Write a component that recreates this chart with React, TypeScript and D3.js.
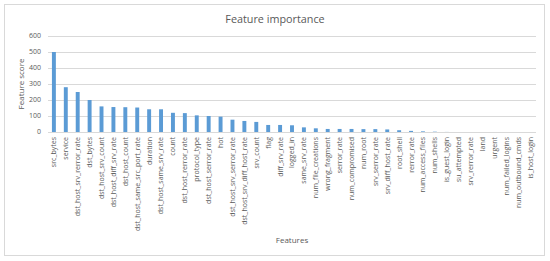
import { useRef, useEffect } from 'react';
import * as d3 from 'd3';

// Feature names, sorted by score as in the source chart
const FEATURES = [
  'src_bytes', 'service', 'dst_host_srv_rerror_rate', 'dst_bytes', 'dst_host_srv_count',
  'dst_host_diff_srv_rate', 'dst_host_count', 'dst_host_same_src_port_rate', 'duration',
  'dst_host_same_srv_rate', 'count', 'dst_host_rerror_rate', 'protocol_type',
  'dst_host_serror_rate', 'hot', 'dst_host_srv_serror_rate', 'dst_host_srv_diff_host_rate',
  'srv_count', 'flag', 'diff_srv_rate', 'logged_in', 'same_srv_rate', 'num_file_creations',
  'wrong_fragment', 'serror_rate', 'num_compromised', 'num_root', 'srv_serror_rate',
  'srv_diff_host_rate', 'root_shell', 'rerror_rate', 'num_access_files', 'num_shells',
  'is_guest_login', 'su_attempted', 'srv_rerror_rate', 'land', 'urgent',
  'num_failed_logins', 'num_outbound_cmds', 'is_host_login',
];

const SCORES = [
  500, 280, 250, 200, 160,
  156, 155, 153, 142,
  142, 120, 118, 104,
  100, 96, 77, 69,
  63, 44, 44, 42, 29, 23,
  19, 19, 19, 18, 18,
  16, 11, 7, 4, 2,
  0.5, 0, 0, 0, 0,
  0, 0, 0,
];

const Y_TICKS = [0, 100, 200, 300, 400, 500, 600];

const W = 550;
const H = 261;
const FONT = 'Open Sans, sans-serif';

export default function App() {
  const svgRef = useRef<SVGSVGElement>(null);

  useEffect(() => {
    if (!svgRef.current) return;
    const svg = d3.select(svgRef.current);
    svg.selectAll('*').remove();

    const margin = { top: 36, right: 14, bottom: 129, left: 48 };
    const innerWidth = W - margin.left - margin.right;
    const innerHeight = H - margin.top - margin.bottom;

    // chart border
    svg.append('rect')
      .attr('x', 4.5)
      .attr('y', 4.5)
      .attr('width', 540)
      .attr('height', 251)
      .attr('fill', '#fff')
      .attr('stroke', '#d9d9d9');

    svg.append('text')
      .attr('x', 275)
      .attr('y', 22.5)
      .attr('text-anchor', 'middle')
      .attr('fill', '#595959')
      .attr('font-size', 10.8)
      .attr('font-family', FONT)
      .text('Feature importance');

    const g = svg.append('g')
      .attr('transform', `translate(${margin.left},${margin.top})`);

    const x = d3.scaleBand()
      .domain(FEATURES)
      .range([0, innerWidth])
      .paddingInner(0.67)
      .paddingOuter(0.33);

    const y = d3.scaleLinear()
      .domain([0, 600])
      .range([innerHeight, 0]);

    // Grid lines
    g.append('g')
      .selectAll('line')
      .data(Y_TICKS)
      .join('line')
      .attr('x1', 0)
      .attr('x2', innerWidth)
      .attr('y1', (d) => Math.round(y(d)) + 0.5)
      .attr('y2', (d) => Math.round(y(d)) + 0.5)
      .attr('stroke', '#d9d9d9');

    // Y tick labels
    g.append('g')
      .selectAll('text')
      .data(Y_TICKS)
      .join('text')
      .attr('x', -7)
      .attr('y', (d) => y(d))
      .attr('dy', '0.35em')
      .attr('text-anchor', 'end')
      .attr('fill', '#595959')
      .attr('font-size', 7)
      .attr('font-family', FONT)
      .text((d) => d);

    // Bars
    g.append('g')
      .selectAll('rect')
      .data(SCORES)
      .join('rect')
      .attr('x', (d, i) => x(FEATURES[i])!)
      .attr('y', (d) => y(d))
      .attr('width', x.bandwidth())
      .attr('height', (d) => innerHeight - y(d))
      .attr('fill', '#5b9bd5');

    // X labels, rotated
    g.append('g')
      .selectAll('text')
      .data(FEATURES)
      .join('text')
      .attr('transform', (d) => `translate(${x(d)! + x.bandwidth() / 2},${innerHeight + 5}) rotate(-90)`)
      .attr('text-anchor', 'end')
      .attr('dy', '0.35em')
      .attr('fill', '#595959')
      .attr('font-size', 7)
      .attr('font-family', FONT)
      .text((d) => d);

    // Axis titles
    svg.append('text')
      .attr('transform', `translate(21,${margin.top + innerHeight / 2}) rotate(-90)`)
      .attr('text-anchor', 'middle')
      .attr('dy', '0.35em')
      .attr('fill', '#595959')
      .attr('font-size', 8)
      .attr('font-family', FONT)
      .text('Feature score');

    svg.append('text')
      .attr('x', margin.left + innerWidth / 2)
      .attr('y', 243)
      .attr('text-anchor', 'middle')
      .attr('fill', '#595959')
      .attr('font-size', 8)
      .attr('font-family', FONT)
      .text('Features');
  }, []);

  return (
    <div style={{ position: 'absolute', left: 0, top: 0 }}>
      <svg ref={svgRef} width={W} height={H} style={{ display: 'block' }} />
    </div>
  );
}
